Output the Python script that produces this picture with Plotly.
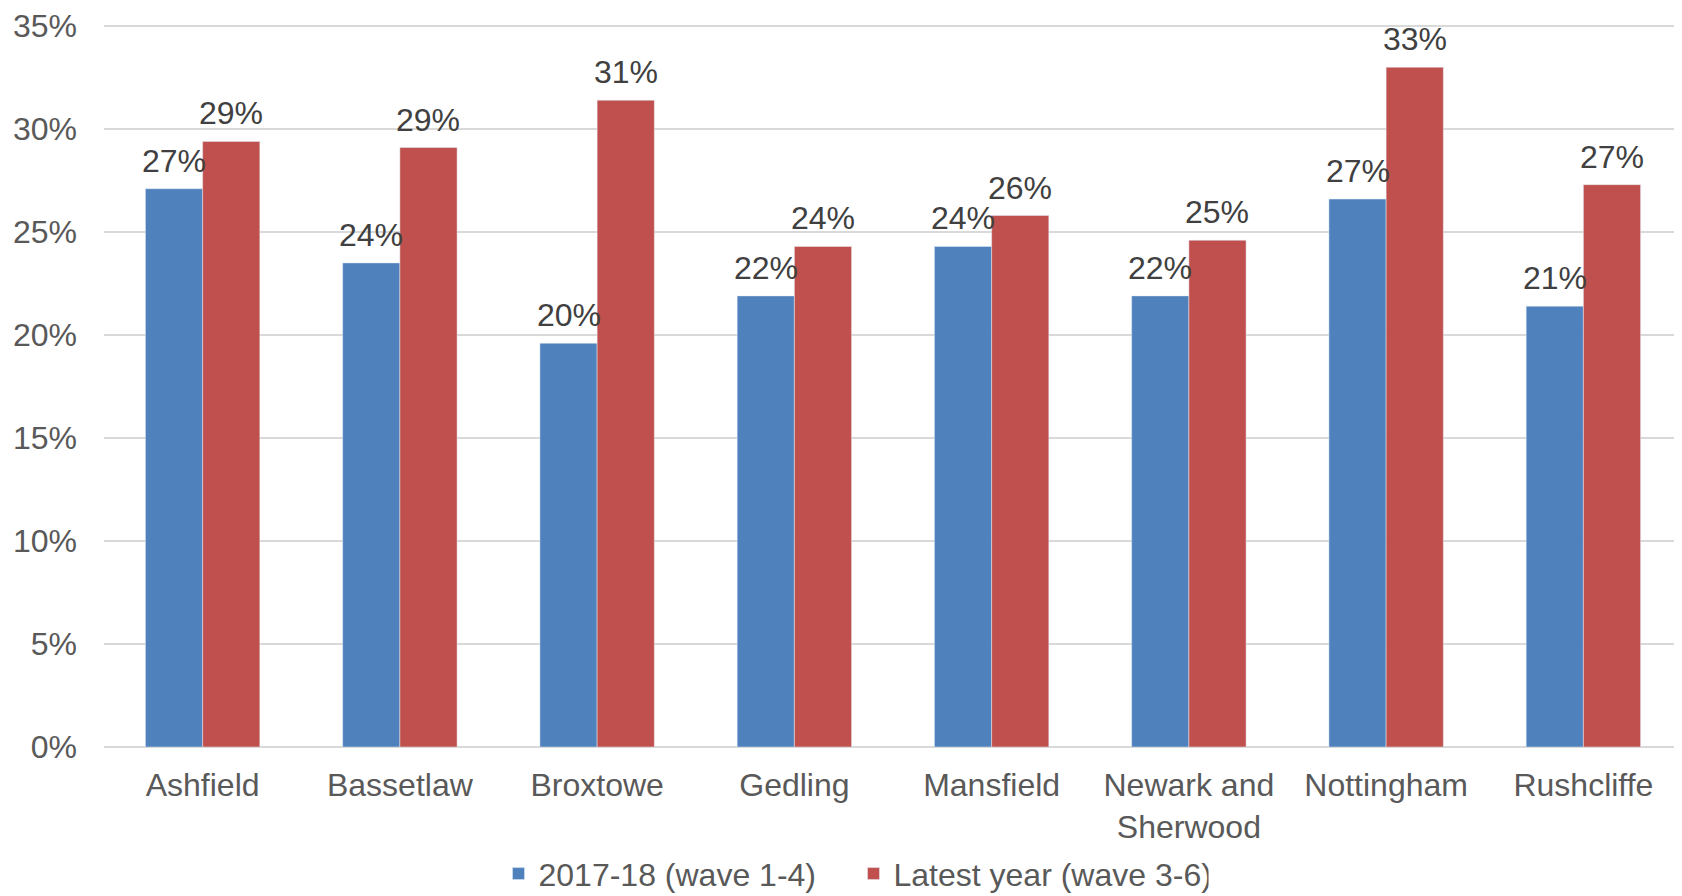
import plotly.graph_objects as go

districts = ['Ashfield', 'Bassetlaw', 'Broxtowe', 'Gedling', 'Mansfield',
             'Newark and<br>Sherwood', 'Nottingham', 'Rushcliffe']
wave_1_4 = [27.1, 23.5, 19.6, 21.9, 24.3, 21.9, 26.6, 21.4]
wave_3_6 = [29.4, 29.1, 31.4, 24.3, 25.8, 24.6, 33.0, 27.3]
series_names = ['2017-18 (wave 1-4)', 'Latest year (wave 3-6)']
y_ticks = [0, 5, 10, 15, 20, 25, 30, 35]

BLUE = '#4F81BD'
RED = '#C0504D'
FONT = 'Liberation Sans, Arial, sans-serif'
BAR_W = 0.29

x_pos = list(range(len(districts)))

fig = go.Figure()
fig.add_trace(go.Bar(x=x_pos, y=wave_1_4, name=series_names[0], width=BAR_W,
                     offset=-BAR_W, marker=dict(color=BLUE)))
fig.add_trace(go.Bar(x=x_pos, y=wave_3_6, name=series_names[1], width=BAR_W,
                     offset=0, marker=dict(color=RED)))

# value labels above each bar
for i in x_pos:
    for val, dx in ((wave_1_4[i], -BAR_W / 2), (wave_3_6[i], BAR_W / 2)):
        fig.add_annotation(x=i + dx, y=val, text=f'{round(val)}%',
                           showarrow=False, yanchor='bottom', yshift=8,
                           font=dict(family=FONT, size=32, color='#404040'))

# page body adds ~8px margin, so the figure is a bit smaller than the window
fig.update_layout(
    width=1674, height=888,
    margin=dict(l=96, r=0, t=17, b=149, autoexpand=False),
    plot_bgcolor='white', paper_bgcolor='white',
    barmode='overlay',
    font=dict(family=FONT, size=32, color='#595959'),
    showlegend=True,
    legend=dict(orientation='h', x=0.25, xanchor='left',
                yref='container', y=0.025, yanchor='middle',
                font=dict(size=32, color='#595959'),
                itemwidth=30, entrywidth=310, tracegroupgap=0),
    xaxis=dict(range=[-0.5, 7.5], tickvals=x_pos, ticktext=districts,
               showgrid=False, zeroline=False, showline=False, ticks='',
               ticklabelstandoff=16, automargin=False),
    yaxis=dict(range=[0, 35.05], tickvals=y_ticks,
               ticktext=[f'{v}%' for v in y_ticks],
               showgrid=True, gridcolor='#D9D9D9', gridwidth=1.5,
               zeroline=True, zerolinecolor='#D9D9D9', zerolinewidth=1.5,
               showline=False, ticks='', ticklabelstandoff=26,
               ticklabeloverflow='allow', automargin=False),
)

fig.write_html('out.html')
